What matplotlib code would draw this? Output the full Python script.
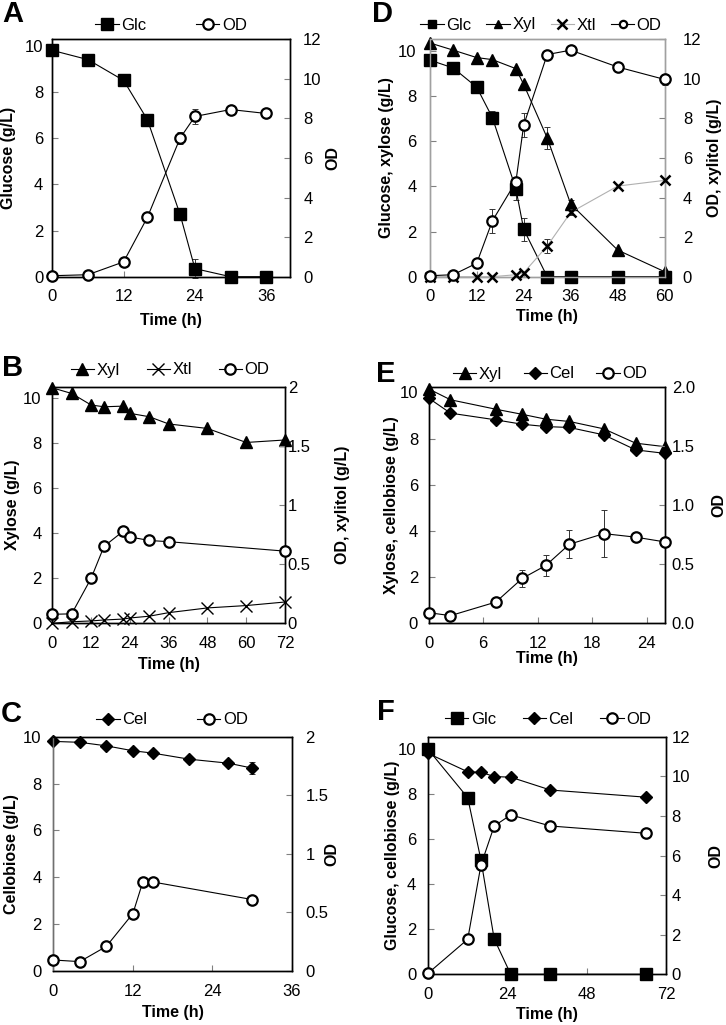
import matplotlib
matplotlib.use("Agg")
import matplotlib.pyplot as plt
from matplotlib.lines import Line2D
from matplotlib.ticker import FuncFormatter

plt.rcParams['font.family'] = ['Liberation Sans', 'DejaVu Sans']

# ---- Panel A: glucose ----
a_time = [0, 6, 12, 16, 21.5, 24, 30, 36]
a_glc = [9.8, 9.4, 8.5, 6.8, 2.7, 0.35, 0, 0]
a_glc_err = [0, 0, 0, 0, 0.1, 0.4, 0, 0]
a_od = [0.05, 0.1, 0.75, 3.0, 7.0, 8.1, 8.45, 8.25]
a_od_err = [0, 0, 0, 0, 0.3, 0.4, 0, 0]

# ---- Panel B: xylose ----
b_time = [0, 6, 12, 16, 22, 24, 30, 36, 48, 60, 72]
b_xyl = [10.43, 10.18, 9.67, 9.59, 9.62, 9.3, 9.15, 8.83, 8.63, 8.01, 8.12]
b_xtl = [0, 0.013, 0.02, 0.028, 0.036, 0.045, 0.06, 0.09, 0.13, 0.15, 0.18]
b_od_time = [0, 6, 12, 16, 22, 24, 30, 36, 72]
b_od = [0.076, 0.08, 0.38, 0.65, 0.78, 0.73, 0.70, 0.69, 0.61]

# ---- Panel C: cellobiose ----
c_time = [0, 4, 8, 12, 15, 20.5, 26.4, 30]
c_cel = [9.8, 9.76, 9.61, 9.4, 9.3, 9.04, 8.87, 8.66]
c_cel_err = [0, 0, 0, 0, 0, 0, 0, 0.25]
c_od_time = [0, 4, 8, 12, 13.5, 15, 30]
c_od = [0.094, 0.08, 0.21, 0.49, 0.76, 0.76, 0.61]

# ---- Panel D: glucose + xylose ----
d_time = [0, 6, 12, 16, 22, 24, 30, 36, 48, 60]
d_glc = [9.6, 9.25, 8.4, 7.05, 3.9, 2.1, 0, 0, 0, 0]
d_glc_err = [0, 0, 0, 0.3, 0.5, 0.5, 0, 0, 0, 0]
d_xyl = [10.36, 10.04, 9.71, 9.62, 9.22, 8.52, 6.15, 3.22, 1.18, 0.22]
d_xyl_err = [0, 0, 0, 0, 0, 0, 0.5, 0.2, 0, 0]
d_xtl = [0, 0, 0, 0, 0.1, 0.2, 1.55, 3.25, 4.58, 4.87]
d_xtl_err = [0, 0, 0, 0, 0, 0, 0.35, 0.15, 0, 0]
d_od = [0.05, 0.1, 0.68, 2.82, 4.8, 7.66, 11.23, 11.45, 10.6, 9.97]
d_od_err = [0, 0, 0, 0.6, 0, 0.6, 0, 0, 0, 0.3]

# ---- Panel E: xylose + cellobiose ----
e_time = [0, 2.4, 7.4, 10.3, 12.9, 15.5, 19.3, 22.8, 26]
e_xyl = [10.15, 9.68, 9.27, 9.05, 8.84, 8.74, 8.42, 7.8, 7.65]
e_cel = [9.75, 9.10, 8.81, 8.62, 8.52, 8.48, 8.16, 7.51, 7.36]
e_od = [0.09, 0.065, 0.18, 0.38, 0.49, 0.67, 0.76, 0.73, 0.69]
e_od_err = [0, 0, 0, 0.07, 0.09, 0.12, 0.2, 0, 0]

# ---- Panel F: glucose + cellobiose ----
f_time = [0, 12, 16, 20, 25, 37, 66]
f_glc = [10.0, 7.85, 5.08, 1.57, 0, 0, 0]
f_cel = [9.82, 9.0, 8.98, 8.79, 8.76, 8.19, 7.87]
f_od = [0.05, 1.77, 5.52, 7.49, 8.05, 7.49, 7.12]

W, H = 726, 1025
GREY = '#a0a0a0'

# marker look of each series
STYLE = {
    'Glc': dict(marker='s', ms=8.5, mfc='black', mew=1),
    'Xyl': dict(marker='^', ms=9, mfc='black', mew=1),
    'Cel': dict(marker='D', ms=6.2, mfc='black', mew=1),
    'Xtl': dict(marker='x', ms=7, mew=1.2),
    'OD': dict(marker='o', ms=7.5, mfc='white', mew=1.6),
}


def box(left, top, right, bottom):
    """Pixel box -> figure fraction rect."""
    return [left / W, 1 - bottom / H, (right - left) / W, (bottom - top) / H]


def make_panel(fig, px, xmax, xstep, ymax_l, ymax_r, rstep, rfmt,
               lpad, rpad, spine=None, left_spine=None):
    """Creates the two y-axis Excel-like panel."""
    ax = fig.add_axes(box(*px))
    ax2 = ax.twinx()
    ax.set_xlim(0, xmax)
    ax.set_xticks(range(0, int(xmax) + 1, xstep))
    ax.set_ylim(0, ymax_l)
    ax.set_yticks(range(0, 11, 2))
    ax2.set_ylim(0, ymax_r)
    n = int(round(ymax_r / rstep))
    ax2.set_yticks([i * rstep for i in range(n + 1)])
    ax2.yaxis.set_major_formatter(FuncFormatter(rfmt))
    ax.tick_params(axis='x', direction='in', length=4, width=0.8, color='#808080',
                   labelsize=12, pad=9)
    ax.tick_params(axis='y', direction='in', length=4, width=0.8, color='#808080',
                   labelsize=12, pad=lpad)
    ax2.tick_params(axis='y', direction='in', length=4, width=0.8, color='#808080',
                    labelsize=12, pad=rpad)
    for a in (ax, ax2):
        for s in a.spines.values():
            s.set_linewidth(1.0)
            s.set_color(spine or 'black')
        if left_spine:
            a.spines['left'].set_color(left_spine)
    return ax, ax2


def draw(ax, t, y, name, err=None, color='black', lw=0.8, **over):
    """Plots one series with optional error bars."""
    st = dict(STYLE[name])
    st.update(over)
    if err is not None:
        idx = [i for i, e in enumerate(err) if e > 0]
        ax.errorbar([t[i] for i in idx], [y[i] for i in idx],
                    yerr=[err[i] for i in idx], fmt='none', ecolor='#333333',
                    elinewidth=0.7, capsize=2.5, capthick=0.7, zorder=1.5,
                    clip_on=False)
    ax.plot(t, y, color=color, lw=lw, mec='black', clip_on=False, zorder=3, **st)


def legend(fig, names, cx, cy, colspace, scale=1.0, colors=None, extra=None):
    handles = []
    for i, nm in enumerate(names):
        st = dict(STYLE[nm])
        st['ms'] = st['ms'] * scale
        if extra and nm in extra:
            st.update(extra[nm])
        c = colors[i] if colors else 'black'
        handles.append(Line2D([], [], color=c, lw=0.8, mec='black', **st))
    fig.legend(handles, names, loc='center', bbox_to_anchor=(cx / W, 1 - cy / H),
               ncol=len(names), frameon=False, fontsize=12, handlelength=1.4,
               handletextpad=0.15, columnspacing=colspace, borderaxespad=0,
               borderpad=0)


def labels(ax, ax2, px, xl, yl, yr, xl_y, yl_x, yr_x):
    """Places axis titles at pixel centres."""
    left, top, right, bottom = px
    ax.set_xlabel(xl, fontsize=11.5, fontweight='bold')
    ax.xaxis.set_label_coords(0.5, (bottom - xl_y) / (bottom - top))
    ax.xaxis.label.set_va('center')
    ax.set_ylabel(yl, fontsize=11.5, fontweight='bold')
    ax.yaxis.set_label_coords((yl_x - left) / (right - left), 0.5)
    ax.yaxis.label.set_va('center')
    ax2.set_ylabel(yr, fontsize=11.5, fontweight='bold', rotation=90)
    ax2.yaxis.set_label_coords((yr_x - left) / (right - left), 0.5)
    ax2.yaxis.label.set_va('center')


int_fmt = lambda v, p: '%g' % v
dec_fmt = lambda v, p: '%.1f' % v

fig = plt.figure(figsize=(W / 100, H / 100), dpi=100)

# A
pA = (52.3, 39.3, 290, 276.7)
ax, ax2 = make_panel(fig, pA, 40, 12, 10.28, 12, 2, int_fmt, 6.5, 9.5)
draw(ax, a_time, a_glc, 'Glc', a_glc_err)
draw(ax2, a_time, a_od, 'OD', a_od_err)
labels(ax, ax2, pA, 'Time (h)', 'Glucose (g/L)', 'OD', 320, 8.3, 333)
ax.set_xticks([0, 12, 24, 36])
legend(fig, ['Glc', 'OD'], 171, 25, 3.0)

# D
pD = (429.7, 39.3, 664.7, 276.7)
ax, ax2 = make_panel(fig, pD, 60, 12, 10.52, 12, 2, int_fmt, 9.5, 13, spine=GREY)
draw(ax, d_time, d_glc, 'Glc', d_glc_err)
draw(ax, d_time, d_xyl, 'Xyl', d_xyl_err)
draw(ax2, d_time, d_xtl, 'Xtl', d_xtl_err, color='#b0b0b0', mew=1.8)
draw(ax2, d_time, d_od, 'OD', d_od_err)
labels(ax, ax2, pD, 'Time (h)', 'Glucose, xylose (g/L)', 'OD, xylitol (g/L)',
       316, 387, 715)
legend(fig, ['Glc', 'Xyl', 'Xtl', 'OD'], 541, 25, 0.9, scale=0.7,
       colors=['black', 'black', '#b0b0b0', 'black'],
       extra={'Xtl': dict(ms=6.5, mew=1.8)})

# B
pB = (52.3, 386.7, 285, 623.3)
ax, ax2 = make_panel(fig, pB, 72, 12, 10.48, 2, 0.5, int_fmt, 7.7, 2)
draw(ax, b_time, b_xyl, 'Xyl')
draw(ax2, b_time, b_xtl, 'Xtl', mew=1.0, ms=8)
draw(ax2, b_od_time, b_od, 'OD')
labels(ax, ax2, pB, 'Time (h)', 'Xylose (g/L)', 'OD, xylitol (g/L)',
       665, 12.5, 342)
legend(fig, ['Xyl', 'Xtl', 'OD'], 170, 370, 1.6, extra={'Xtl': dict(mew=1.0, ms=8)})

# E
pE = (428.7, 387.3, 664.7, 623.3)
ax, ax2 = make_panel(fig, pE, 26, 6, 10.22, 2, 0.5, dec_fmt, 7.7, 5)
draw(ax, e_time, e_xyl, 'Xyl')
draw(ax, e_time, e_cel, 'Cel')
draw(ax2, e_time, e_od, 'OD', e_od_err)
labels(ax, ax2, pE, 'Time (h)', 'Xylose, cellobiose (g/L)', 'OD',
       658, 392, 718.5)
legend(fig, ['Xyl', 'Cel', 'OD'], 550, 374, 1.3)

# C
pC = (53.3, 736.7, 292, 971)
ax, ax2 = make_panel(fig, pC, 36, 12, 10.0, 2, 0.5, int_fmt, 8.4, 9.6,
                     left_spine='#707070')
draw(ax, c_time, c_cel, 'Cel', c_cel_err)
draw(ax2, c_od_time, c_od, 'OD')
labels(ax, ax2, pC, 'Time (h)', 'Cellobiose (g/L)', 'OD', 1012, 12, 332)
legend(fig, ['Cel', 'OD'], 172, 720, 3.0)

# F
pF = (428, 736.7, 666.3, 974.3)
ax, ax2 = make_panel(fig, pF, 72, 24, 10.56, 12, 2, int_fmt, 8.4, 3.6)
draw(ax, f_time, f_glc, 'Glc')
draw(ax, f_time, f_cel, 'Cel')
draw(ax2, f_time, f_od, 'OD')
labels(ax, ax2, pF, 'Time (h)', 'Glucose, cellobiose (g/L)', 'OD',
       1015, 392, 716)
legend(fig, ['Glc', 'Cel', 'OD'], 548, 719, 1.6)

# panel letters
for letter, x, y in [('A', 12.5, 14), ('D', 383, 14), ('B', 12.5, 368),
                     ('E', 386, 374), ('C', 11, 714), ('F', 386, 712)]:
    fig.text(x / W, 1 - y / H, letter, fontsize=21, fontweight='bold',
             ha='center', va='center')

fig.savefig('out.png', dpi=100)
